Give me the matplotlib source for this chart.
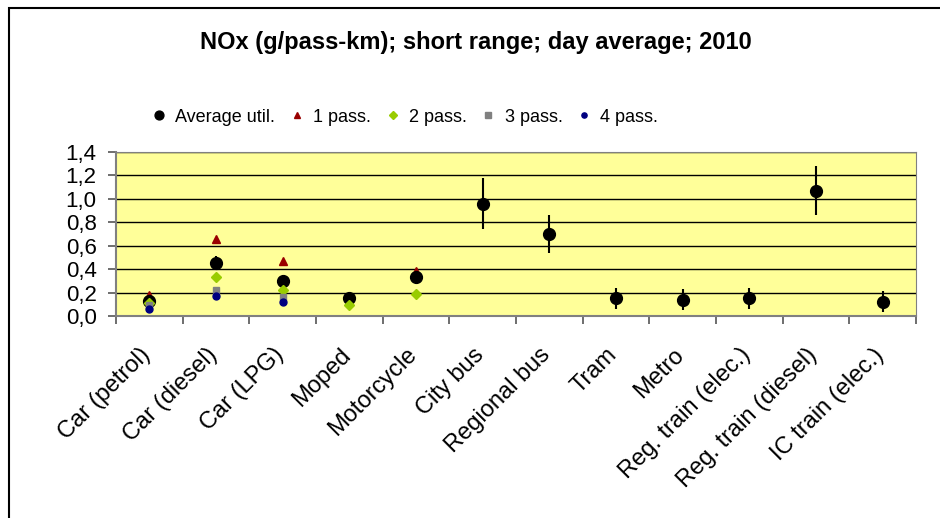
import matplotlib
matplotlib.use('Agg')
import matplotlib.pyplot as plt
import matplotlib.patches as mpatches
import matplotlib.transforms as mtransforms
import numpy as np

plt.rcParams['font.family'] = ['Liberation Sans', 'DejaVu Sans']

# ── Data ──────────────────────────────────────────────────────────
categories = ['Car (petrol)', 'Car (diesel)', 'Car (LPG)', 'Moped', 'Motorcycle',
              'City bus', 'Regional bus', 'Tram', 'Metro', 'Reg. train (elec.)',
              'Reg. train (diesel)', 'IC train (elec.)']
avg_util = [0.13, 0.45, 0.30, 0.15, 0.33, 0.96, 0.70, 0.15, 0.14, 0.15, 1.07, 0.12]
avg_err  = [0.03, 0.06, 0.05, 0.02, 0.03, 0.22, 0.16, 0.09, 0.09, 0.09, 0.21, 0.09]
pass1 = [0.18, 0.66, 0.47, 0.16, 0.38] + [np.nan] * 7
pass2 = [0.11, 0.33, 0.22, 0.09, 0.19] + [np.nan] * 7
pass3 = [0.09, 0.22, 0.16, np.nan, np.nan] + [np.nan] * 7
pass4 = [0.06, 0.17, 0.12, np.nan, np.nan] + [np.nan] * 7
yticks = [0.0, 0.2, 0.4, 0.6, 0.8, 1.0, 1.2, 1.4]

# ── Figure ────────────────────────────────────────────────────────
fig = plt.figure(figsize=(9.4, 5.18), dpi=100)
fig.patch.set_facecolor('white')

# outer chart frame (Excel style, runs off right/bottom)
frame = mpatches.Rectangle((9 / 940, -0.05), 1.0, 1 - 8 / 518 + 0.05,
                           transform=fig.transFigure, fill=False,
                           edgecolor='black', linewidth=1.5)
fig.add_artist(frame)

ax = fig.add_axes([116 / 940, 1 - 316 / 518, 800 / 940, 164 / 518])
ax.set_facecolor('#FFFF99')

x = np.arange(len(categories))
ax.errorbar(x, avg_util, yerr=avg_err, fmt='none', ecolor='black',
            elinewidth=1.5, capsize=0, zorder=3)
ax.plot(x, pass1, '^', color='#990000', markersize=6, zorder=4, label='1 pass.')
ax.plot(x, avg_util, 'o', color='black', markersize=8.5, zorder=5, label='Average util.')
ax.plot(x, pass2, 'D', color='#99CC00', markersize=5, zorder=6, label='2 pass.')
ax.plot(x, pass3, 's', color='#808080', markersize=5, zorder=7, label='3 pass.')
ax.plot(x, pass4, 'o', color='#000080', markersize=5, zorder=8, label='4 pass.')

ax.set_xlim(-0.5, len(categories) - 0.5)
ax.set_ylim(0, 1.4)
ax.set_yticks(yticks)
ax.set_yticklabels([f'{v:.1f}'.replace('.', ',') for v in yticks], fontsize=16)
ax.grid(True, axis='y', color='black', linewidth=1)
ax.set_axisbelow(True)

# category ticks between categories, labels at centers
ax.set_xticks(np.arange(len(categories) + 1) - 0.5)
ax.set_xticklabels([])
ax.set_xticks(x, minor=True)
ax.set_xticklabels(categories, minor=True, rotation=45, ha='right',
                   rotation_mode='anchor', fontsize=17)
ax.tick_params(axis='x', which='minor', length=0, pad=20)
ax.tick_params(axis='both', which='major', length=6, width=1.2, color='#555555')
ax.tick_params(axis='y', which='major', pad=8)
shift = mtransforms.ScaledTranslation(-10 / 100, 0, fig.dpi_scale_trans)
for lbl in ax.get_xticklabels(minor=True):
    lbl.set_transform(lbl.get_transform() + shift)

for s in ['top', 'right']:
    ax.spines[s].set_color('#808080')
for s in ['left', 'bottom']:
    ax.spines[s].set_color('#808080')
    ax.spines[s].set_linewidth(1.5)

# legend
handles, labels = ax.get_legend_handles_labels()
order = ['Average util.', '1 pass.', '2 pass.', '3 pass.', '4 pass.']
hmap = dict(zip(labels, handles))
fig.legend([hmap[k] for k in order], order, loc='center',
           bbox_to_anchor=(405 / 940, 1 - 117 / 518), ncol=5, frameon=False,
           fontsize=13, handlelength=0.8, handletextpad=0.5, columnspacing=0.8,
           markerscale=0.75)

fig.text(476 / 940, 1 - 42 / 518, 'NOx (g/pass-km); short range; day average; 2010',
         ha='center', va='center', fontsize=17, fontweight='bold')

plt.savefig('out.png', dpi=100, facecolor='white')
plt.close()
